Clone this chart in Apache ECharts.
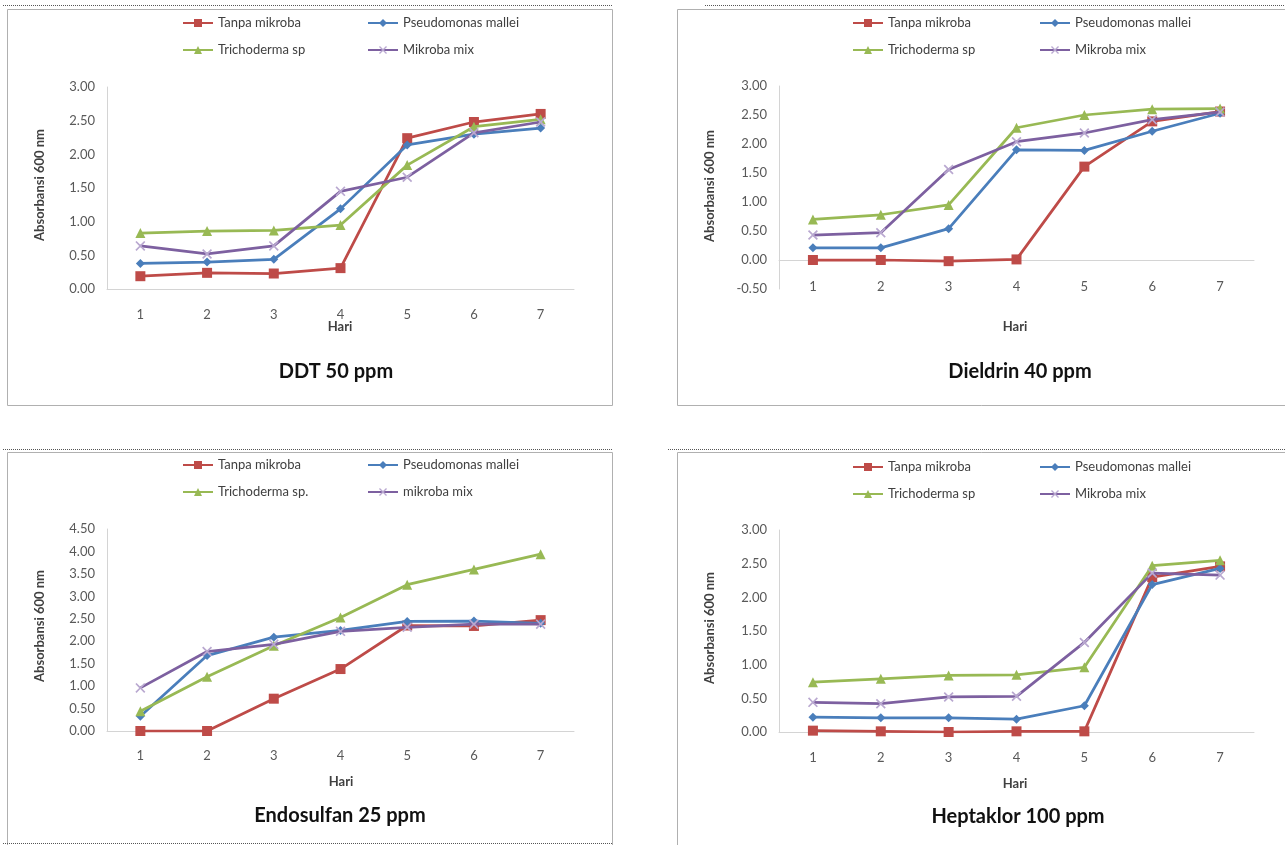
<!DOCTYPE html>
<html>
<head>
<meta charset="utf-8">
<script src="https://cdn.jsdelivr.net/npm/echarts@6/dist/echarts.min.js"></script>
<style>
html,body{margin:0;padding:0;background:#fff;}
#chart{width:1285px;height:845px;}
</style>
</head>
<body>
<div id="chart"></div>
<script>
// ---- Data ----
const days = ['1', '2', '3', '4', '5', '6', '7'];

const namesStd = ['Tanpa mikroba', 'Pseudomonas mallei', 'Trichoderma sp', 'Mikroba mix'];
const namesEndo = ['Tanpa mikroba', 'Pseudomonas mallei', 'Trichoderma sp.', 'mikroba mix'];

const panelTitles = ['DDT 50 ppm', 'Dieldrin 40 ppm', 'Endosulfan 25 ppm', 'Heptaklor 100 ppm'];
const xAxisTitle = 'Hari';
const yAxisTitle = 'Absorbansi 600 nm';

const ddtTanpa  = [0.19, 0.24, 0.23, 0.31, 2.24, 2.48, 2.60];
const ddtPseudo = [0.38, 0.40, 0.44, 1.19, 2.14, 2.30, 2.39];
const ddtTricho = [0.83, 0.86, 0.87, 0.95, 1.84, 2.41, 2.52];
const ddtMix    = [0.64, 0.52, 0.64, 1.45, 1.66, 2.32, 2.48];

const dieTanpa  = [0.00, 0.00, -0.02, 0.01, 1.61, 2.39, 2.56];
const diePseudo = [0.21, 0.21, 0.54, 1.90, 1.89, 2.22, 2.53];
const dieTricho = [0.70, 0.78, 0.95, 2.28, 2.50, 2.60, 2.61];
const dieMix    = [0.43, 0.47, 1.56, 2.04, 2.19, 2.42, 2.55];

const endTanpa  = [0.00, 0.00, 0.72, 1.38, 2.35, 2.34, 2.47];
const endPseudo = [0.33, 1.68, 2.09, 2.24, 2.44, 2.45, 2.40];
const endTricho = [0.44, 1.21, 1.90, 2.53, 3.26, 3.60, 3.94];
const endMix    = [0.96, 1.77, 1.93, 2.22, 2.31, 2.38, 2.38];

const hepTanpa  = [0.02, 0.01, 0.00, 0.01, 0.01, 2.30, 2.46];
const hepPseudo = [0.22, 0.21, 0.21, 0.19, 0.39, 2.19, 2.43];
const hepTricho = [0.74, 0.79, 0.84, 0.85, 0.96, 2.47, 2.55];
const hepMix    = [0.44, 0.42, 0.52, 0.53, 1.33, 2.36, 2.33];

const yMins = [0, -0.5, 0, 0];
const yMaxs = [3, 3, 4.5, 3];
const yStep = 0.5;

// ---- Styling ----
const FONT = 'Lato, "Open Sans", sans-serif';
const RED = '#BE4B48', BLUE = '#4A7EBB', GREEN = '#98B954', PURPLE = '#7D60A0', LAV = '#B9A8D0';
const DIAMOND = 'path://M5,0 L10,5 L5,10 L0,5 Z';
const XMARK = 'path://M0,1.2 L1.2,0 L5,3.8 L8.8,0 L10,1.2 L6.2,5 L10,8.8 L8.8,10 L5,6.2 L1.2,10 L0,8.8 L3.8,5 Z';

const grids = [
  {left: 107, top: 87, width: 467, height: 202},
  {left: 779, top: 86, width: 475, height: 203},
  {left: 107, top: 529, width: 467, height: 202},
  {left: 779, top: 530, width: 475, height: 202}
];
const panelData = [
  [ddtTanpa, ddtPseudo, ddtTricho, ddtMix],
  [dieTanpa, diePseudo, dieTricho, dieMix],
  [endTanpa, endPseudo, endTricho, endMix],
  [hepTanpa, hepPseudo, hepTricho, hepMix]
];
const panelNames = [namesStd, namesStd, namesEndo, namesStd];
const labelMargins = [19, -9, 18, 19];

const xAxes = [], yAxes = [], series = [], legends = [];
for (let p = 0; p < 4; p++) {
  const hasNeg = yMins[p] < 0;
  xAxes.push({
    type: 'category', gridIndex: p, data: days, boundaryGap: true,
    axisLine: {show: true, onZero: true, lineStyle: {color: '#D4D4D4', width: 1}},
    axisTick: {show: false},
    axisLabel: {show: !hasNeg, margin: labelMargins[p], color: '#595959', fontSize: 13, fontFamily: FONT},
    splitLine: {show: false}
  });
  yAxes.push({
    type: 'value', gridIndex: p, min: yMins[p], max: yMaxs[p], interval: yStep,
    axisLine: {show: true, lineStyle: {color: '#D4D4D4', width: 1}},
    axisTick: {show: false},
    splitLine: {show: false},
    axisLabel: {margin: 12, color: '#595959', fontSize: 13, fontFamily: FONT,
      formatter: v => v.toFixed(2)}
  });
}
// bottom label axis for the panel with negative values
xAxes.push({
  type: 'category', gridIndex: 1, data: days, boundaryGap: true, position: 'bottom',
  axisLine: {show: false, onZero: false}, axisTick: {show: false}, splitLine: {show: false},
  axisLabel: {show: true, margin: labelMargins[1], color: '#595959', fontSize: 13, fontFamily: FONT}
});

const styles = [
  {color: RED, symbol: 'rect', size: 10, sym: RED},
  {color: BLUE, symbol: DIAMOND, size: 9, sym: BLUE},
  {color: GREEN, symbol: 'triangle', size: 10, sym: GREEN},
  {color: PURPLE, symbol: XMARK, size: 10, sym: LAV}
];

for (let p = 0; p < 4; p++) {
  for (let s = 0; s < 4; s++) {
    const st = styles[s];
    series.push({
      type: 'line', name: panelNames[p][s], xAxisIndex: p, yAxisIndex: p,
      data: panelData[p][s], symbol: st.symbol, symbolSize: st.size, showSymbol: true,
      lineStyle: {color: st.color, width: 2.75},
      itemStyle: {color: st.sym, borderWidth: 0},
      emphasis: {disabled: true}, animation: false, z: 2 + s
    });
  }
}

const legendPos = [
  {x1: 182, x2: 367, y: 23},
  {x1: 852, x2: 1039, y: 23},
  {x1: 182, x2: 367, y: 465},
  {x1: 852, x2: 1039, y: 467}
];
for (let p = 0; p < 4; p++) {
  const lp = legendPos[p];
  const common = {orient: 'vertical', itemWidth: 30, itemHeight: 10, itemGap: 11, padding: 0,
    top: lp.y - 8, textStyle: {color: '#404040', fontSize: 13, fontFamily: FONT, lineHeight: 16}};
  legends.push(Object.assign({}, common, {left: lp.x1, data: [panelNames[p][0], panelNames[p][2]]}));
  legends.push(Object.assign({}, common, {left: lp.x2, data: [panelNames[p][1], panelNames[p][3]]}));
}

// ---- decorative frames and text ----
const graphic = [];
const frames = [
  {x: 7, y: 9, w: 605, h: 396},
  {x: 677, y: 9, w: 620, h: 396},
  {x: 7, y: 452, w: 605, h: 400},
  {x: 677, y: 452, w: 620, h: 400}
];
frames.forEach(f => graphic.push({type: 'rect', shape: {x: f.x + 0.5, y: f.y + 0.5, width: f.w, height: f.h},
  style: {fill: 'none', stroke: '#B0B0B0', lineWidth: 1}, silent: true, z: 0}));
const dots = [
  [3, 5, 612], [705, 5, 1285], [3, 449, 612], [668, 449, 1285], [3, 843, 612]
];
dots.forEach(d => graphic.push({type: 'line', shape: {x1: d[0], y1: d[1] + 0.5, x2: d[2], y2: d[1] + 0.5},
  style: {stroke: '#555', lineWidth: 1, lineDash: [1, 1]}, silent: true}));

const titlePos = [[336, 372], [1020, 372], [340, 816], [1018, 817]];
const hariPos = [[340, 327], [1015, 327], [341, 782], [1015, 784]];
const yTitlePos = [[40, 185], [710, 186], [40, 626], [710, 628]];
for (let p = 0; p < 4; p++) {
  graphic.push({type: 'text', x: titlePos[p][0], y: titlePos[p][1], silent: true,
    style: {text: panelTitles[p], fontFamily: FONT, fontSize: 20, fontWeight: 'bold', fill: '#111',
      textAlign: 'center', textVerticalAlign: 'middle'}});
  graphic.push({type: 'text', x: hariPos[p][0], y: hariPos[p][1], silent: true,
    style: {text: xAxisTitle, fontFamily: FONT, fontSize: 13, fontWeight: 'bold', fill: '#404040',
      textAlign: 'center', textVerticalAlign: 'middle'}});
  graphic.push({type: 'text', x: yTitlePos[p][0], y: yTitlePos[p][1], rotation: Math.PI / 2, silent: true,
    style: {text: yAxisTitle, fontFamily: FONT, fontSize: 13, fontWeight: 'bold', fill: '#404040',
      textAlign: 'center', textVerticalAlign: 'middle'}});
}

const chart = echarts.init(document.getElementById('chart'));
chart.setOption({
  animation: false,
  backgroundColor: '#fff',
  grid: grids,
  xAxis: xAxes,
  yAxis: yAxes,
  legend: legends,
  series: series,
  graphic: graphic
});
</script>
</body>
</html>
